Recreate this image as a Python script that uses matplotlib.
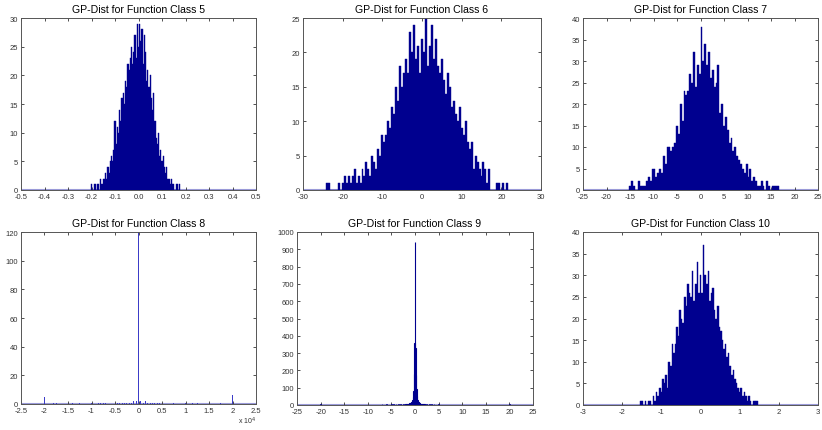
import numpy as np
import matplotlib.pyplot as plt

plt.rcParams['font.family'] = ['Liberation Sans', 'DejaVu Sans']
plt.rcParams['axes.unicode_minus'] = False

# ---- data (bin counts) ----
# class 5: bins of 0.005 starting at -0.200
c5_start, c5_width = -0.200, 0.005
c5_counts = [1, 0, 0, 1, 0, 1, 1, 0, 2, 1, 2, 2, 3, 2, 4, 3, 5, 6, 5, 7,
             12, 8, 11, 10, 14, 12, 16, 17, 15, 19, 18, 22, 21, 23, 25, 22, 24, 27, 23, 29,
             25, 29, 26, 28, 22, 27, 24, 19, 21, 18, 20, 16, 14, 17, 12, 9, 8, 10, 6, 7,
             5, 6, 4, 3, 4, 2, 2, 1, 2, 1, 1, 0, 1, 1, 0, 1]

# class 6: bins of 0.5 starting at -24
c6_start, c6_width = -24.0, 0.5
c6_counts = [1, 1, 0, 0, 0, 0, 1, 0, 1, 2, 1, 2, 1, 2, 3, 1, 2, 1, 3, 2,
             4, 3, 2, 5, 4, 3, 6, 5, 8, 7, 8, 10, 9, 12, 11, 15, 13, 18, 15, 17,
             19, 17, 23, 20, 24, 19, 21, 17, 22, 20, 25, 18, 21, 24, 19, 22, 18, 17, 19, 16,
             14, 17, 15, 12, 13, 11, 10, 12, 9, 8, 10, 7, 6, 7, 3, 5, 4, 3, 2, 4,
             3, 1, 3, 0, 0, 0, 1, 1, 0, 1, 0, 1]

# class 7: bins of 0.4 starting at -15
c7_start, c7_width = -15.0, 0.4
c7_counts = [1, 2, 1, 0, 0, 2, 1, 1, 1, 2, 3, 2, 5, 5, 3, 4, 5, 4, 8, 6,
             10, 10, 9, 10, 11, 15, 13, 20, 16, 23, 22, 23, 27, 25, 32, 24, 29, 27, 38, 30,
             34, 29, 32, 26, 28, 24, 25, 29, 18, 20, 15, 17, 14, 11, 12, 9, 10, 8, 7, 6,
             5, 4, 6, 3, 5, 2, 3, 2, 1, 1, 2, 1, 0, 2, 1, 0, 1, 1, 1, 1]

# class 8: sparse bars
c8_centers = [-20000, -18000, -17500, -15000, -14000, -12500, -10000, -8500, -8000, -7500,
              -7000, -5000, -4500, -4000, -3500, -3000, -2500, -2000, -1500, -1000,
              -500, 0, 500, 1000, 1500, 2000, 2500, 3000, 3500, 4000,
              4500, 5000, 7500, 10000, 11500, 12500, 15000, 17500, 20000]
c8_counts = [5, 1, 1, 1, 1, 1, 1, 1, 1, 1,
             1, 2, 1, 1, 1, 1, 1, 1, 1, 2,
             2, 120, 2, 1, 2, 1, 1, 1, 1, 1,
             1, 1, 1, 1, 1, 1, 1, 1, 6]

# class 9: dense core (bins of 0.1 from -2.0) plus sparse tails
c9_start, c9_width = -2.0, 0.1
c9_counts = [3, 4, 3, 5, 4, 6, 6, 8, 9, 10, 12, 14, 16, 20, 25, 30, 45, 80, 180, 360,
             940, 330, 175, 95, 50, 30, 22, 18, 15, 12, 10, 8, 7, 6, 5, 5, 4, 4, 3, 3, 3]
c9_tail_x = [-20, -17, -15, -12, -9, -8, -7, -6, -5, -4.5, -4, -3.5, -3, -2.5,
             2.5, 3, 3.5, 4, 5, 6, 7, 8, 9, 10, 11, 12, 13, 14, 20]
c9_tail_n = [8, 1, 1, 1, 2, 2, 3, 3, 4, 3, 4, 5, 5, 6,
             5, 6, 5, 3, 3, 2, 2, 2, 1, 1, 1, 2, 1, 1, 8]

# class 10: bins of 0.04 starting at -1.52
c10_start, c10_width = -1.52, 0.04
c10_counts = [1, 1, 0, 1, 0, 1, 1, 0, 2, 1, 3, 2, 4, 3, 6, 5, 7, 4, 10, 9,
              14, 12, 14, 18, 16, 22, 20, 19, 25, 23, 28, 26, 25, 31, 24, 28, 33, 26, 30, 26,
              37, 30, 28, 31, 24, 26, 27, 22, 20, 23, 18, 17, 15, 13, 14, 11, 12, 9, 7, 8,
              6, 5, 4, 3, 4, 2, 3, 2, 1, 2, 1, 0, 1, 1, 1]

titles = ['GP-Dist for Function Class %d' % k for k in range(5, 11)]

face = '#00008f'
base = '#9a9ad8'

fig = plt.figure(figsize=(8.22, 4.31), dpi=100)
W, H = 822.0, 431.0


def make_ax(l, r, t, b):
    return fig.add_axes([l / W, (H - b) / H, (r - l) / W, (b - t) / H])


def style(ax, title, xlim, xticks, ylim, yticks, xlabels=None):
    ax.set_xlim(*xlim)
    ax.set_ylim(*ylim)
    ax.set_xticks(xticks)
    if xlabels is not None:
        ax.set_xticklabels(xlabels)
    ax.set_yticks(yticks)
    ax.tick_params(direction='in', top=True, right=True, length=2.5, width=0.6,
                   labelsize=5.5, colors='#333333', pad=2)
    for s in ax.spines.values():
        s.set_color('#555555')
        s.set_linewidth(0.7)
    ax.set_title(title, fontsize=7.6, pad=4)
    ax.axhline(0, color=base, lw=1.5, zorder=1)


def hist_bars(ax, start, width, counts, lw=0.3):
    centers = start + width * np.arange(len(counts))
    ax.bar(centers, counts, width=width, color=face, edgecolor=face,
           linewidth=lw, zorder=2)


ax5 = make_ax(21, 256, 19, 191)
hist_bars(ax5, c5_start, c5_width, c5_counts)
style(ax5, titles[0], (-0.5, 0.5), np.round(np.arange(-0.5, 0.51, 0.1), 1),
      (0, 30), range(0, 31, 5))

ax6 = make_ax(303, 541, 19, 191)
hist_bars(ax6, c6_start, c6_width, c6_counts)
style(ax6, titles[1], (-30, 30), range(-30, 31, 10), (0, 25), range(0, 26, 5))

ax7 = make_ax(583, 818, 19, 191)
hist_bars(ax7, c7_start, c7_width, c7_counts)
style(ax7, titles[2], (-25, 25), range(-25, 26, 5), (0, 40), range(0, 41, 5))

ax8 = make_ax(21, 256, 233, 405)
ax8.bar(c8_centers, c8_counts, width=200, color='#3c3cc8', edgecolor='none', zorder=2)
xt8 = np.arange(-25000, 25001, 5000)
style(ax8, titles[3], (-25000, 25000), xt8, (0, 120), range(0, 121, 20),
      xlabels=['%g' % (v / 1e4) for v in xt8])
ax8.text(1.0, -0.065, r'x 10$^{4}$', transform=ax8.transAxes, ha='right', va='top',
         fontsize=5, color='#333333')

ax9 = make_ax(297, 533, 233, 406)
hist_bars(ax9, c9_start, c9_width, c9_counts, lw=0.8)
ax9.bar(c9_tail_x, c9_tail_n, width=0.15, color=face, edgecolor=face,
        linewidth=0.5, zorder=2)
style(ax9, titles[4], (-25, 25), range(-25, 26, 5), (0, 1000), range(0, 1001, 100))

ax10 = make_ax(583, 818, 233, 406)
hist_bars(ax10, c10_start, c10_width, c10_counts)
style(ax10, titles[5], (-3, 3), range(-3, 4, 1), (0, 40), range(0, 41, 5))

fig.savefig('out.png', dpi=100)
